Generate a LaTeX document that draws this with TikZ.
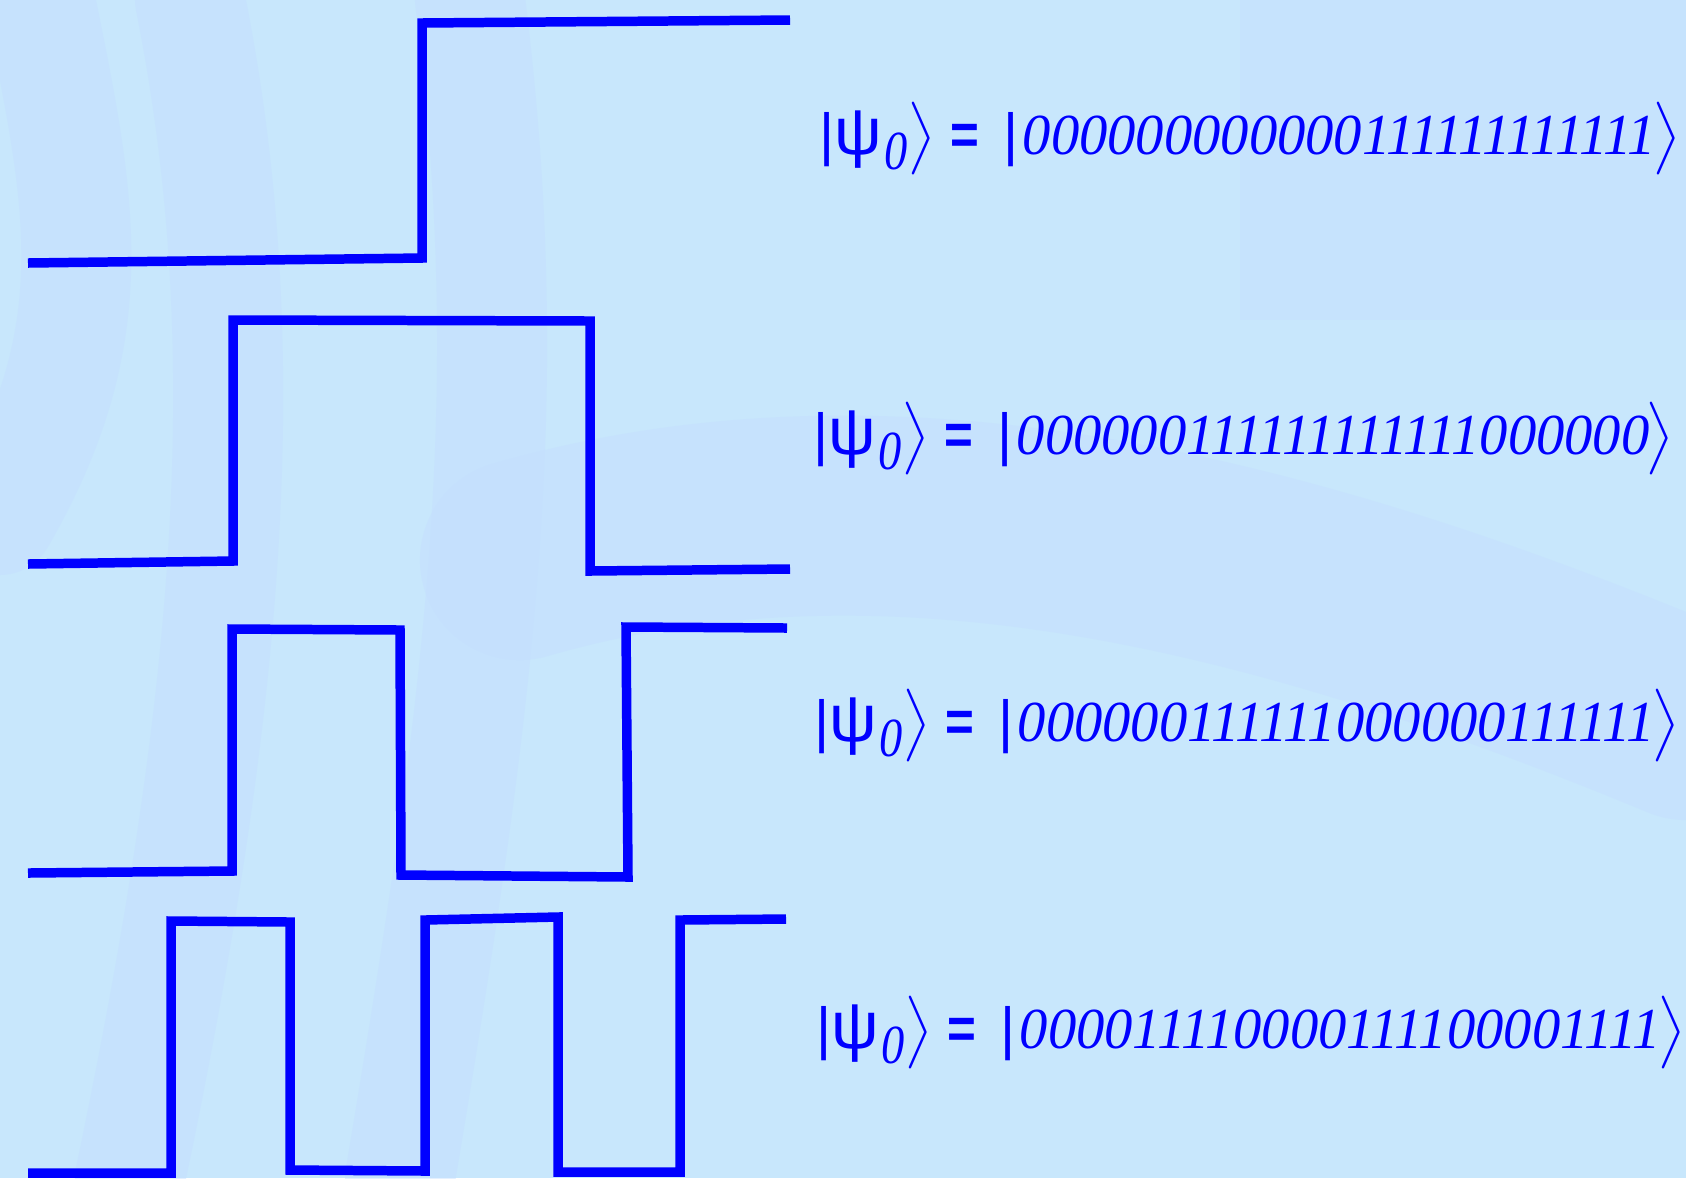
\documentclass[tikz,border=0pt]{standalone}
\usepackage{amsmath}
\usepackage{fontspec}
\setmainfont{Liberation Serif}
\newfontfamily\symbfont{Liberation Sans}
\usetikzlibrary{positioning}
\definecolor{bgBlue}{RGB}{200, 231, 252}
\definecolor{swBlue}{RGB}{196, 222, 255}
\definecolor{waveBlue}{RGB}{0, 0, 255}

\tikzset{
  wave/.style={draw=waveBlue, line width=2.7pt, line join=miter},
  swoosh/.style={draw=swBlue, line width=1.1cm, opacity=0.45, line cap=round},
  ket/.style={anchor=base west, inner sep=0pt, text=waveBlue,
    font=\fontsize{16.5}{19.8}\selectfont}
}
\newcommand{\ketstate}[1]{{\symbfont|}\kern0pt\scalebox{1.15}{\symbfont ψ}\kern0.5pt\raisebox{-0.26em}{\scalebox{0.8}[0.95]{\itshape 0}}\kern0pt$\bigr\rangle$\hspace{4pt}\scalebox{0.85}[1]{\symbfont\bfseries =}\hspace{7pt}{\symbfont|}\kern1.2pt\scalebox{0.975}[1]{\itshape #1}\kern-1pt$\bigr\rangle$}

\begin{document}
\begin{tikzpicture}[x=0.01cm, y=-0.01cm]
    \fill[bgBlue] (0,0) rectangle (1686,1178);
    \useasboundingbox (0,0) rectangle (1686,1178);
    % faint background swooshes
    \draw[swoosh] (40,0) .. controls (80,200) and (110,330) .. (0,520);
    \draw[swoosh] (190,0) .. controls (260,350) and (230,700) .. (130,1178);
    \draw[swoosh] (470,0) .. controls (520,400) and (480,700) .. (400,1178);
    \draw[swoosh, line width=2cm] (520,560) .. controls (900,450) and (1300,560) .. (1686,720);
    \fill[swBlue, opacity=0.35] (1240,0) rectangle (1686,320);
    % waveforms
    \draw[wave] (28,263) -- (422,258) -- (422,23) -- (790,20);
    \draw[wave] (28,564) -- (233,561) -- (233,320) -- (590,321) -- (590,571) -- (790,569);
    \draw[wave] (28,873) -- (232,871) -- (232,629) -- (400,630) -- (401,875) -- (628,877) -- (626,627) -- (787,628);
    \draw[wave] (28,1173) -- (171,1173) -- (171,921) -- (290,922) -- (290,1170) -- (425,1171)
        -- (425,920) -- (558,917) -- (558,1172) -- (680,1172) -- (680,920) -- (786,919);
    % states
    \node[ket] (stateA) at (819,154) {\ketstate{000000000000111111111111}};
    \node[ket] (stateB) at (813,454) {\ketstate{000000111111111111000000}};
    \node[ket] (stateC) at (814,741) {\ketstate{000000111111000000111111}};
    \node[ket] (stateD) at (816,1048) {\ketstate{000011110000111100001111}};
\end{tikzpicture}
\end{document}
